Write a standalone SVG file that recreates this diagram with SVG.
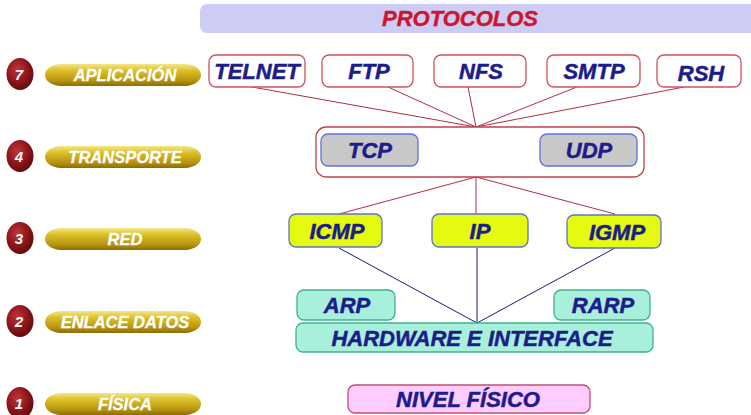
<svg xmlns="http://www.w3.org/2000/svg" width="751" height="415" viewBox="0 0 751 415">
  <defs>
    <radialGradient id="ball" cx="0.4" cy="0.35" r="0.7">
      <stop offset="0" stop-color="#c0343a"/>
      <stop offset="0.6" stop-color="#8a1418"/>
      <stop offset="1" stop-color="#5a0a0c"/>
    </radialGradient>
    <linearGradient id="gold" x1="0" y1="0" x2="0" y2="1">
      <stop offset="0" stop-color="#f4e68a"/>
      <stop offset="0.3" stop-color="#dcc028"/>
      <stop offset="0.75" stop-color="#b89410"/>
      <stop offset="1" stop-color="#8c6c04"/>
    </linearGradient>
    <style>
      .lbl { font-family: "Liberation Sans", Arial, sans-serif; font-weight: bold; font-style: italic; }
      .proto { fill: #1c1c8a; stroke: #1c1c8a; stroke-width: 0.5; font-size: 22px; text-anchor: middle; }
      .layer { fill: #ffffff; stroke: #ffffff; stroke-width: 0.3; font-size: 16.5px; text-anchor: middle; }
      .num { fill: #ffffff; font-size: 15px; text-anchor: middle; }
      .app { fill: #ffffff; stroke: #d05060; stroke-width: 1.3; }
      .tr { fill: #c8c8c8; stroke: #6070e0; stroke-width: 1.3; }
      .net { fill: #e4fa10; stroke: #6070d0; stroke-width: 1.3; }
      .link { fill: #a8f0dc; stroke: #40b090; stroke-width: 1.3; }
      .red { stroke: #b03040; stroke-width: 1; fill: none; }
      .blue { stroke: #1a1a80; stroke-width: 1; fill: none; }
    </style>
  </defs>

  <!-- header bar -->
  <g id="header">
    <rect x="200" y="4" width="560" height="29" rx="7" fill="#ccccf4"/>
    <text x="460" y="26" class="lbl" font-size="22" fill="#d0142c" stroke="#d0142c" stroke-width="0.4" text-anchor="middle">PROTOCOLOS</text>
  </g>

  <!-- layer legend -->
  <g id="layer-7">
    <ellipse cx="20" cy="74" rx="13.5" ry="16" fill="url(#ball)"/>
    <text x="19" y="80" class="lbl num">7</text>
    <path d="M60,64 H186 C206,66 206,84 186,86 H60 C40,84 40,66 60,64 Z" fill="url(#gold)"/>
    <text x="125" y="81" class="lbl layer">APLICACIÓN</text>
  </g>
  <g id="layer-4">
    <ellipse cx="20" cy="156" rx="13.5" ry="16" fill="url(#ball)"/>
    <text x="19" y="162" class="lbl num">4</text>
    <path d="M60,146 H186 C206,148 206,166 186,168 H60 C40,166 40,148 60,146 Z" fill="url(#gold)"/>
    <text x="125" y="163" class="lbl layer">TRANSPORTE</text>
  </g>
  <g id="layer-3">
    <ellipse cx="20" cy="238" rx="13.5" ry="16" fill="url(#ball)"/>
    <text x="19" y="244" class="lbl num">3</text>
    <path d="M60,228 H186 C206,230 206,248 186,250 H60 C40,248 40,230 60,228 Z" fill="url(#gold)"/>
    <text x="125" y="245" class="lbl layer">RED</text>
  </g>
  <g id="layer-2">
    <ellipse cx="20" cy="321" rx="13.5" ry="16" fill="url(#ball)"/>
    <text x="19" y="327" class="lbl num">2</text>
    <path d="M60,311 H186 C206,313 206,331 186,333 H60 C40,331 40,313 60,311 Z" fill="url(#gold)"/>
    <text x="125" y="328" class="lbl layer">ENLACE DATOS</text>
  </g>
  <g id="layer-1">
    <ellipse cx="20" cy="403" rx="13.5" ry="16" fill="url(#ball)"/>
    <text x="19" y="409" class="lbl num">1</text>
    <path d="M60,393 H186 C206,395 206,413 186,415 H60 C40,413 40,395 60,393 Z" fill="url(#gold)"/>
    <text x="125" y="410" class="lbl layer">FÍSICA</text>
  </g>

  <!-- connectors -->
  <g id="connectors">
    <line class="red" x1="252" y1="87" x2="476" y2="127"/>
    <line class="red" x1="388" y1="87" x2="476" y2="127"/>
    <line class="red" x1="468" y1="87" x2="476" y2="127"/>
    <line class="red" x1="577" y1="87" x2="476" y2="127"/>
    <line class="red" x1="684" y1="87" x2="476" y2="127"/>
    <line class="red" x1="476" y1="177" x2="339" y2="214"/>
    <line class="red" x1="476" y1="177" x2="476" y2="214"/>
    <line class="red" x1="476" y1="177" x2="615" y2="214"/>
    <line class="blue" x1="339" y1="248" x2="477" y2="323"/>
    <line class="blue" x1="477" y1="248" x2="477" y2="323"/>
    <line class="blue" x1="615" y1="248" x2="477" y2="323"/>
  </g>

  <!-- application layer -->
  <g id="telnet"><rect class="app" x="209" y="55" width="96" height="32" rx="7"/><text x="257" y="79" class="lbl proto">TELNET</text></g>
  <g id="ftp"><rect class="app" x="322" y="55" width="91" height="32" rx="7"/><text x="369" y="79" class="lbl proto">FTP</text></g>
  <g id="nfs"><rect class="app" x="434" y="55" width="92" height="32" rx="7"/><text x="481" y="79" class="lbl proto">NFS</text></g>
  <g id="smtp"><rect class="app" x="547" y="55" width="93" height="32" rx="7"/><text x="594" y="79" class="lbl proto">SMTP</text></g>
  <g id="rsh"><rect class="app" x="657" y="55" width="84" height="32" rx="7"/><text x="701" y="81" class="lbl proto">RSH</text></g>

  <!-- transport layer -->
  <g id="transport">
    <rect x="316" y="127" width="328" height="50" rx="10" fill="#ffffff" stroke="#c04050" stroke-width="1.3"/>
  </g>
  <g id="tcp"><rect class="tr" x="321" y="134" width="97" height="32" rx="7"/><text x="370" y="158" class="lbl proto">TCP</text></g>
  <g id="udp"><rect class="tr" x="540" y="134" width="97" height="32" rx="7"/><text x="589" y="158" class="lbl proto">UDP</text></g>

  <!-- network layer -->
  <g id="icmp"><rect class="net" x="289" y="214" width="93" height="33" rx="7"/><text x="337" y="239" class="lbl proto">ICMP</text></g>
  <g id="ip"><rect class="net" x="432" y="214" width="96" height="33" rx="7"/><text x="480" y="239" class="lbl proto">IP</text></g>
  <g id="igmp"><rect class="net" x="567" y="215" width="94" height="33" rx="7"/><text x="617" y="240" class="lbl proto">IGMP</text></g>

  <!-- data link layer -->
  <g id="arp"><rect class="link" x="297" y="290" width="98" height="30" rx="7"/><text x="347" y="313" class="lbl proto">ARP</text></g>
  <g id="rarp"><rect class="link" x="554" y="290" width="96" height="30" rx="7"/><text x="603" y="313" class="lbl proto">RARP</text></g>
  <g id="hardware"><rect class="link" x="296" y="323" width="357" height="29" rx="7"/><text x="472" y="346" class="lbl proto">HARDWARE E INTERFACE</text></g>

  <!-- physical layer -->
  <g id="nivel-fisico"><rect x="348" y="385" width="242" height="28" rx="7" fill="#ffccff" stroke="#c05070" stroke-width="1.3"/><text x="468" y="407" class="lbl proto">NIVEL FÍSICO</text></g>
</svg>
